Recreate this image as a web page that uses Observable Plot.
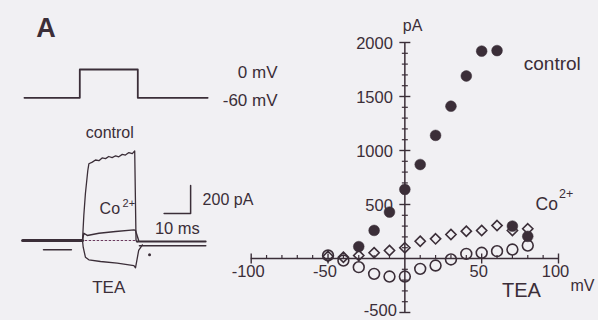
<!DOCTYPE html>
<html><head><meta charset="utf-8">
<script src="https://cdn.jsdelivr.net/npm/d3@7"></script>
<script src="https://cdn.jsdelivr.net/npm/@observablehq/plot@0.6"></script>
<style>
html,body{margin:0;padding:0;background:#f1f0f3;}
#chart{position:relative;width:598px;height:320px;overflow:hidden;}
#chart svg{position:absolute;left:0;top:0;}
</style></head><body><div id="chart"></div>
<script>
// ---------- I-V relation (right panel) ----------
const voltages = [-50, -40, -30, -20, -10, 0, 10, 20, 30, 40, 50, 60, 70, 80];
const controlV = [-30, -20, -10, 0, 10, 20, 30, 40, 50, 60, 70, 80];
const controlI = [110, 260, 430, 640, 870, 1140, 1410, 1690, 1920, 1925, 300, 205];
const cobaltI = [20, 12, 28, 53, 74, 99, 160, 182, 222, 253, 259, 305, 259, 275];
const teaI = [28, -19, -80, -142, -167, -167, -96, -65, -9, 43, 53, 68, 83, 120];
const xTickValues = [-100, -90, -80, -70, -60, -50, -40, -30, -20, -10, 0, 10, 20, 30, 40, 50, 60, 70, 80, 90, 100];
const xMajorTicks = [-100, -50, 50, 100];
const xTickLabels = ["-100", "-50", "50", "100"];
const yTickValues = [-500, -400, -300, -200, -100, 0, 100, 200, 300, 400, 500, 600, 700, 800, 900, 1000, 1100, 1200, 1300, 1400, 1500, 1600, 1700, 1800, 1900, 2000];
const yMajorTicks = [-500, 500, 1000, 1500, 2000];
const yTickLabels = ["-500", "500", "1000", "1500", "2000"];

// ---------- voltage protocol (top left) ----------
const protocolT = [-21, 0, 0, 22, 22, 48.5];      // ms
const protocolV = [-60, -60, 0, 0, -60, -60];     // mV
const protocolLabels = ["0 mV", "-60 mV"];
const protocolLabelV = [0, -60];

// ---------- current traces (bottom left) ----------
const baselineT = [-22.6, 0];
const baselineI = [0, 0];
const controlTraceT = [0, 0.1, 0.5, 1.1, 2.0, 2.4, 3.7, 4.9, 6.2, 7.4, 8.7, 9.9, 11.2, 12.5, 13.7, 15.0, 16.2, 17.5, 18.8, 19.7, 20.2, 20.6];
const controlTraceI = [0, 36, 180, 336, 500, 548, 560, 575, 570, 590, 585, 600, 592, 605, 598, 615, 610, 628, 620, 640, 0, -10];
const cobaltTraceT = [0, 0.5, 1.8, 6.2, 12.5, 19.4, 20.0, 21.2];
const cobaltTraceI = [0, 52, 36, 52, 64, 76, 72, 0];
const teaTraceT = [0, 0.26, 1.1, 2.4, 6.8, 13.1, 19.4, 20.0, 21.2, 22.6];
const teaTraceI = [0, -48, -119, -138, -150, -162, -179, -195, -71, -31];
const tailUpperT = [20.6, 46.5];
const tailUpperI = [-7, -7];
const tailLowerT = [21.5, 46.5];
const tailLowerI = [-38, -38];
const zeroLineT = [1, 20];
const zeroLineI = [0, 0];
const holdMarkT = [-14.7, -4.2];
const holdMarkI = [-66, -66];
const dotMarkT = [25.3];
const dotMarkI = [-102];
const scaleBarT = [30.8, 40.8, 40.8];   // 10 ms
const scaleBarI = [193, 193, 393];      // 200 pA

const ink = "#3b2e38";
const font = "'Liberation Sans', Arial, Helvetica, sans-serif";
const zip = (xs, ys) => xs.map((x, i) => ({x, y: ys[i]}));

// custom tick symbols (pixel-sized)
const hTick = {draw(ctx, size) { const r = Math.sqrt(size / Math.PI); ctx.moveTo(-r, 0); ctx.lineTo(r, 0); }};
const vTickUp = {draw(ctx, size) { const r = Math.sqrt(size / Math.PI); ctx.moveTo(0, 0); ctx.lineTo(0, -r); }};
const vTickCross = {draw(ctx, size) { const r = Math.sqrt(size / Math.PI); ctx.moveTo(0, -r); ctx.lineTo(0, r); }};

const chart = document.getElementById("chart");
const yLabelRows = yTickLabels.map((t, i) => ({t, y: yMajorTicks[i]}));

// ---- right panel ----
const iv = Plot.plot({
  width: 598, height: 320,
  x: {domain: [-100, 100], range: [250.7, 558], axis: null},
  y: {domain: [-500, 2000], range: [312, 42], axis: null},
  style: {background: "transparent", fontFamily: font, color: ink, overflow: "visible"},
  marks: [
    Plot.ruleY([0], {x1: -100, x2: 100, stroke: ink, strokeWidth: 1.5}),
    Plot.ruleX([0], {y1: -500, y2: 2000, stroke: ink, strokeWidth: 1.5}),
    Plot.dot(yTickValues.filter(d => !yMajorTicks.includes(d) && d !== 0), {x: 0, y: d => d, symbol: hTick, r: 3, fill: "none", stroke: ink, strokeWidth: 1.2}),
    Plot.dot(yMajorTicks, {x: 0, y: d => d, symbol: hTick, r: 5.5, fill: "none", stroke: ink, strokeWidth: 1.4}),
    Plot.dot(xTickValues.filter(d => !xMajorTicks.includes(d) && d !== 0), {x: d => d, y: 0, symbol: vTickUp, r: 3.5, fill: "none", stroke: ink, strokeWidth: 1.2}),
    Plot.dot(xMajorTicks, {x: d => d, y: 0, symbol: vTickCross, r: 5, fill: "none", stroke: ink, strokeWidth: 1.4}),
    Plot.text(yLabelRows.filter(d => d.y > 0), {x: 0, y: "y", text: "t", textAnchor: "end", dx: -12, dy: 1.5, fontSize: 16.5, fill: ink}),
    Plot.text(yLabelRows.filter(d => d.y < 0), {x: 0, y: "y", text: "t", textAnchor: "end", dx: -8, dy: -1.5, fontSize: 16.5, fill: ink}),
    Plot.text(xTickLabels, {x: (d, i) => xMajorTicks[i], y: 0, text: d => d, textAnchor: "middle", dx: -3, dy: 13, fontSize: 16.5, fill: ink}),
    Plot.text(["pA"], {x: 0, y: 2000, text: d => d, textAnchor: "start", dx: -2, dy: -17, fontSize: 16, fill: ink}),
    Plot.text(["mV"], {x: 100, y: 0, text: d => d, textAnchor: "start", dx: 12, dy: 27, fontSize: 16, fill: ink}),
    Plot.text(["control"], {x: 100, y: 1800, text: d => d, textAnchor: "start", dx: -34.7, dy: 0, fontSize: 19, fill: ink}),
    Plot.text(["Co"], {x: 100, y: 300, text: d => d, textAnchor: "start", dx: -23, dy: -22, fontSize: 17.5, fill: ink}),
    Plot.text(["2+"], {x: 100, y: 300, text: d => d, textAnchor: "start", dx: 0.5, dy: -32, fontSize: 12.5, fill: ink}),
    Plot.text(["TEA"], {x: 100, y: 0, text: d => d, textAnchor: "start", dx: -56.5, dy: 32, fontSize: 20, fill: ink}),
    Plot.dot(zip(controlV, controlI), {x: "x", y: "y", r: 5.4, fill: ink, stroke: ink, strokeWidth: 0.5}),
    Plot.dot(zip(voltages, cobaltI), {x: "x", y: "y", symbol: "diamond2", r: 4.6, fill: "none", stroke: ink, strokeWidth: 1.6}),
    Plot.dot(zip(voltages, teaI), {x: "x", y: "y", r: 5.4, fill: "none", stroke: ink, strokeWidth: 1.6})
  ]
});
chart.appendChild(iv);

// ---- protocol ----
const prot = Plot.plot({
  width: 598, height: 320,
  x: {domain: [0, 22], range: [79.3, 137.3], axis: null},
  y: {domain: [-60, 0], range: [97.3, 69], axis: null},
  style: {background: "transparent", fontFamily: font, color: ink, overflow: "visible"},
  marks: [
    Plot.line(zip(protocolT, protocolV), {x: "x", y: "y", stroke: ink, strokeWidth: 1.8}),
    Plot.text(protocolLabels, {x: 75, y: (d, i) => protocolLabelV[i], text: d => d, textAnchor: "end", dy: 3, fontSize: 17, fill: ink}),
    Plot.text(["A"], {x: 0, y: 0, text: d => d, textAnchor: "middle", dx: -33.8, dy: -41, fontSize: 27, fontWeight: "bold", fill: ink})
  ]
});
chart.appendChild(prot);

// ---- traces ----
const tr = Plot.plot({
  width: 598, height: 320,
  x: {domain: [0, 10], range: [82, 108.5], axis: null},
  y: {domain: [0, 200], range: [240, 212], axis: null},
  style: {background: "transparent", fontFamily: font, color: ink, overflow: "visible"},
  marks: [
    Plot.line(zip(baselineT, baselineI), {x: "x", y: "y", stroke: ink, strokeWidth: 3}),
    Plot.line(zip(holdMarkT, holdMarkI), {x: "x", y: "y", stroke: ink, strokeWidth: 1.6}),
    Plot.line(zip(zeroLineT, zeroLineI), {x: "x", y: "y", stroke: "#6b3a5e", strokeWidth: 1.2, strokeDasharray: "1.5,2.5"}),
    Plot.line(zip(controlTraceT, controlTraceI), {x: "x", y: "y", stroke: ink, strokeWidth: 1.3}),
    Plot.line(zip(cobaltTraceT, cobaltTraceI), {x: "x", y: "y", stroke: ink, strokeWidth: 1.4}),
    Plot.line(zip(teaTraceT, teaTraceI), {x: "x", y: "y", stroke: ink, strokeWidth: 1.3}),
    Plot.line(zip(tailUpperT, tailUpperI), {x: "x", y: "y", stroke: ink, strokeWidth: 1.8}),
    Plot.line(zip(tailLowerT, tailLowerI), {x: "x", y: "y", stroke: ink, strokeWidth: 1.6}),
    Plot.dot(zip(dotMarkT, dotMarkI), {x: "x", y: "y", r: 1.5, fill: ink}),
    Plot.line(zip(scaleBarT, scaleBarI), {x: "x", y: "y", stroke: ink, strokeWidth: 1.5}),
    Plot.text(["200 pA"], {x: 40.8, y: 293, text: d => d, textAnchor: "start", dx: 12, fontSize: 16, fill: ink}),
    Plot.text(["10 ms"], {x: 35.8, y: 193, text: d => d, textAnchor: "middle", dy: 15, fontSize: 16.5, fill: ink}),
    Plot.text(["control"], {x: 10.3, y: 771, text: d => d, textAnchor: "middle", fontSize: 16, fill: ink}),
    Plot.text(["Co"], {x: 10.3, y: 226, text: d => d, textAnchor: "middle", fontSize: 16, fill: ink}),
    Plot.text(["2+"], {x: 17.5, y: 266, text: d => d, textAnchor: "middle", fontSize: 11, fill: ink}),
    Plot.text(["TEA"], {x: 9.9, y: -333, text: d => d, textAnchor: "middle", fontSize: 17, fill: ink})
  ]
});
chart.appendChild(tr);
</script></body></html>
